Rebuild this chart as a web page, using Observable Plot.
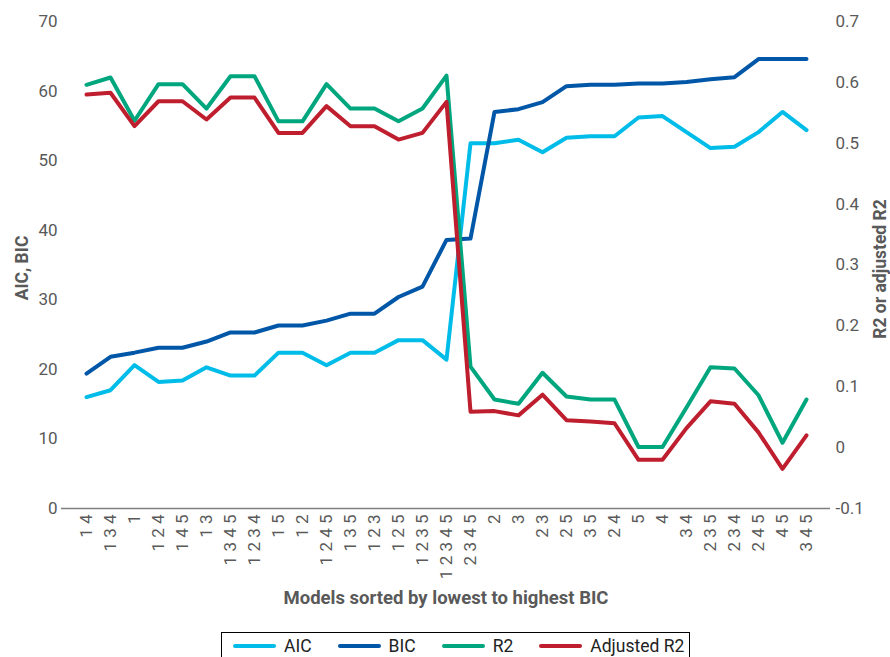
<!DOCTYPE html>
<html>
<head>
<meta charset="utf-8">
<script src="https://cdn.jsdelivr.net/npm/d3@7"></script>
<script src="https://cdn.jsdelivr.net/npm/@observablehq/plot@0.6"></script>
<style>
  html, body { margin: 0; padding: 0; background: #fff; }
  #chart svg { display: block; }
  .legend {
    margin: 12px 0 0 221px; width: 469px; height: 34px; box-sizing: border-box;
    border: 1px solid #000; display: flex; align-items: flex-start; justify-content: flex-start;
    padding: 2px 0 0 11px; white-space: nowrap;
    font-family: Roboto, sans-serif; font-size: 17.5px; color: #222; gap: 26px;
  }
  .legend .item { display: flex; align-items: center; gap: 8px; line-height: 22px; flex-shrink: 0; }
  .legend .sw { width: 43px; height: 4px; border-radius: 2px; flex-shrink: 0; }
</style>
</head>
<body>
<div id="chart"></div>
<div class="legend" id="legend"></div>
<script>
const categories = ["1 4","1 3 4","1","1 2 4","1 4 5","1 3","1 3 4 5","1 2 3 4","1 5","1 2","1 2 4 5","1 3 5","1 2 3","1 2 5","1 2 3 5","1 2 3 4 5","2 3 4 5","2","3","2 3","2 5","3 5","2 4","5","4","3 4","2 3 5","2 3 4","2 4 5","4 5","3 4 5"];

const AIC = [16.0,17.0,20.6,18.2,18.4,20.3,19.1,19.1,22.4,22.4,20.6,22.4,22.4,24.2,24.2,21.4,52.5,52.5,53.0,51.2,53.3,53.5,53.5,56.2,56.4,54.1,51.8,52.0,54.1,57.0,54.4];
const BIC = [19.4,21.8,22.4,23.1,23.1,24.0,25.3,25.3,26.3,26.3,27.0,28.0,28.0,30.4,31.9,38.6,38.8,57.0,57.4,58.4,60.7,60.9,60.9,61.1,61.1,61.3,61.7,62.0,64.6,64.6,64.6];
const R2 = [0.596,0.608,0.537,0.597,0.597,0.557,0.610,0.610,0.536,0.536,0.597,0.557,0.557,0.536,0.557,0.611,0.133,0.079,0.072,0.123,0.084,0.079,0.079,0.001,0.001,0.066,0.132,0.130,0.086,0.008,0.079];
const AdjR2 = [0.580,0.583,0.528,0.569,0.569,0.539,0.575,0.575,0.517,0.517,0.561,0.528,0.528,0.506,0.517,0.568,0.059,0.060,0.053,0.087,0.045,0.043,0.040,-0.020,-0.020,0.032,0.076,0.072,0.025,-0.035,0.020];

const seriesNames = ["AIC","BIC","R2","Adjusted R2"];
const seriesColors = ["#00BCE8","#0057A8","#00A67E","#BE1E2D"];
const leftTicks = [0,10,20,30,40,50,60,70];
const rightTicks = [-0.1,0,0.1,0.2,0.3,0.4,0.5,0.6,0.7];
const leftTitle = "AIC, BIC";
const rightTitle = "R2 or adjusted R2";
const xTitle = "Models sorted by lowest to highest BIC";

// right axis (-0.1..0.7) mapped onto left axis (0..70)
const toLeft = v => (v + 0.1) * 70 / 0.8;
const fromLeft = d => Math.round((d * 0.8 / 70 - 0.1) * 10) / 10;

const rows = [];
categories.forEach((c, i) => {
  rows.push({model: c, series: "AIC", y: AIC[i]});
  rows.push({model: c, series: "BIC", y: BIC[i]});
  rows.push({model: c, series: "R2", y: toLeft(R2[i])});
  rows.push({model: c, series: "Adjusted R2", y: toLeft(AdjR2[i])});
});

const titleStyle = {fontWeight: "bold", fontSize: 17.5, fill: "#595959"};

const chart = Plot.plot({
  width: 890,
  height: 620,
  marginLeft: 61,
  marginRight: 60,
  marginTop: 21,
  marginBottom: 112,
  style: {fontFamily: "Roboto, sans-serif", fontSize: "17px", color: "#595959", background: "#fff"},
  x: {type: "point", domain: categories, padding: 0.5},
  y: {domain: [0, 70]},
  color: {domain: seriesNames, range: seriesColors},
  marks: [
    Plot.axisY(leftTicks, {anchor: "left", tickSize: 0, tickPadding: 4, label: null}),
    Plot.axisY(rightTicks.map(toLeft), {anchor: "right", tickSize: 0, tickPadding: 5, tickFormat: d => String(fromLeft(d)), label: null}),
    Plot.axisX({tickRotate: -90, tickSize: 0, tickPadding: 6, label: null}),
    Plot.text([leftTitle], {frameAnchor: "left", text: d => d, rotate: -90, dx: -39, dy: 3, textAnchor: "middle", ...titleStyle}),
    Plot.text([rightTitle], {frameAnchor: "right", text: d => d, rotate: -90, dx: 50, dy: 4, textAnchor: "middle", ...titleStyle}),
    Plot.text([xTitle], {frameAnchor: "bottom", text: d => d, dy: 95, dx: 0, textAnchor: "middle", ...titleStyle, fontSize: 18.5}),
    Plot.ruleY([0], {stroke: "#7f7f7f", strokeWidth: 1.5}),
    Plot.lineY(rows, {x: "model", y: "y", z: "series", stroke: "series", strokeWidth: 4})
  ]
});
document.getElementById("chart").appendChild(chart);

const legend = document.getElementById("legend");
seriesNames.forEach((s, i) => {
  const item = document.createElement("div");
  item.className = "item";
  const sw = document.createElement("div");
  sw.className = "sw";
  sw.style.background = seriesColors[i];
  const t = document.createElement("span");
  t.textContent = s;
  item.appendChild(sw);
  item.appendChild(t);
  legend.appendChild(item);
});
</script>
</body>
</html>
